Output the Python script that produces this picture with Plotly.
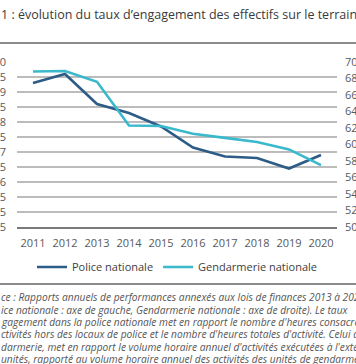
import plotly.graph_objects as go

years = ['2011', '2012', '2013', '2014', '2015', '2016', '2017', '2018', '2019', '2020']
police = [39.3, 39.6, 38.6, 38.3, 37.85, 37.15, 36.85, 36.8, 36.45, 36.9]
gendarmerie = [68.85, 68.9, 67.6, 62.3, 62.25, 61.3, 60.8, 60.3, 59.4, 57.5]

title_text = "1 : évolution du taux d’engagement des effectifs sur le terrain (Police"
footnote_lines = [
    "ce : Rapports annuels de performances annexés aux lois de finances 2013 à 2021",
    "ice nationale : axe de gauche, Gendarmerie nationale : axe de droite). Le taux",
    "gagement dans la police nationale met en rapport le nombre d'heures consacrées",
    "ctivités hors des locaux de police et le nombre d'heures totales d'activité. Celui de la",
    "darmerie, met en rapport le volume horaire annuel d'activités exécutées à l'extérieur",
    "unités, rapporté au volume horaire annuel des activités des unités de gendarmerie.",
]

W_TOT, H_TOT = 356, 364
L, R, T, B = 17, 19, 62, 137
PW, PH = W_TOT - L - R, H_TOT - T - B


def px(x):
    return (x - L) / PW


def py(y):
    return (T + PH - y) / PH


DARK = '#2d5c87'
CYAN = '#3ab9cc'
FONT = 'Open Sans'

fig = go.Figure()
fig.add_trace(go.Scatter(x=years, y=police, mode='lines', name='Police nationale',
                         line=dict(color=DARK, width=2.6), yaxis='y'))
fig.add_trace(go.Scatter(x=years, y=gendarmerie, mode='lines', name='Gendarmerie nationale',
                         line=dict(color=CYAN, width=2.6), yaxis='y2'))

annotations = [dict(text=title_text, xref='paper', yref='paper', x=px(-1), y=py(15),
                    xanchor='left', yanchor='middle', showarrow=False,
                    font=dict(family=FONT, size=12.5, color='#3a3a3a'))]
fy = [297, 309.5, 322, 334, 346.5, 358.5]
for line, yy in zip(footnote_lines, fy):
    annotations.append(dict(text='<i>' + line + '</i>', xref='paper', yref='paper',
                            x=px(-1), y=py(yy), xanchor='left', yanchor='middle',
                            showarrow=False,
                            font=dict(family=FONT, size=10.2, color='#555555')))

shapes = [
    dict(type='line', xref='paper', yref='paper', x0=px(-5), x1=px(360), y0=py(43), y1=py(43),
         line=dict(color='#8c8c8c', width=2), layer='above'),
    dict(type='line', xref='paper', yref='paper', x0=px(-5), x1=px(360), y0=py(284), y1=py(284),
         line=dict(color='#8c8c8c', width=2), layer='above'),
]

fig.update_layout(
    width=W_TOT, height=H_TOT,
    margin=dict(l=L, r=R, t=T, b=B, autoexpand=False),
    paper_bgcolor='white', plot_bgcolor='white',
    separators=', ',
    font=dict(family=FONT, size=11, color='#595959'),
    showlegend=True,
    legend=dict(orientation='h', x=0.5, xanchor='center', y=py(267), yanchor='middle',
                font=dict(family=FONT, size=11, color='#404040'), itemwidth=30,
                bgcolor='rgba(0,0,0,0)'),
    xaxis=dict(type='category', range=[-0.5, 9.5], showgrid=False, showline=True,
               linecolor='#7a7a7a', linewidth=2, ticks='', ticklabelstandoff=5,
               tickfont=dict(size=11, color='#595959'), fixedrange=True),
    yaxis=dict(range=[34.5, 40], dtick=0.5, tick0=34.5, showgrid=True, gridcolor='#bcbcbc',
               gridwidth=1.8, zeroline=False, ticks='', ticklabelstandoff=10,
               tickfont=dict(size=11, color='#595959'), tickformat='.1~f'),
    yaxis2=dict(range=[50, 70], dtick=2, overlaying='y', side='right', showgrid=False,
                zeroline=False, ticks='', ticklabelstandoff=7,
                tickfont=dict(size=11, color='#595959')),
    annotations=annotations,
    shapes=shapes,
)

fig.write_html("out.html", config={'displayModeBar': False},
               post_script="document.body.style.margin='0px';document.body.style.overflow='hidden';")
